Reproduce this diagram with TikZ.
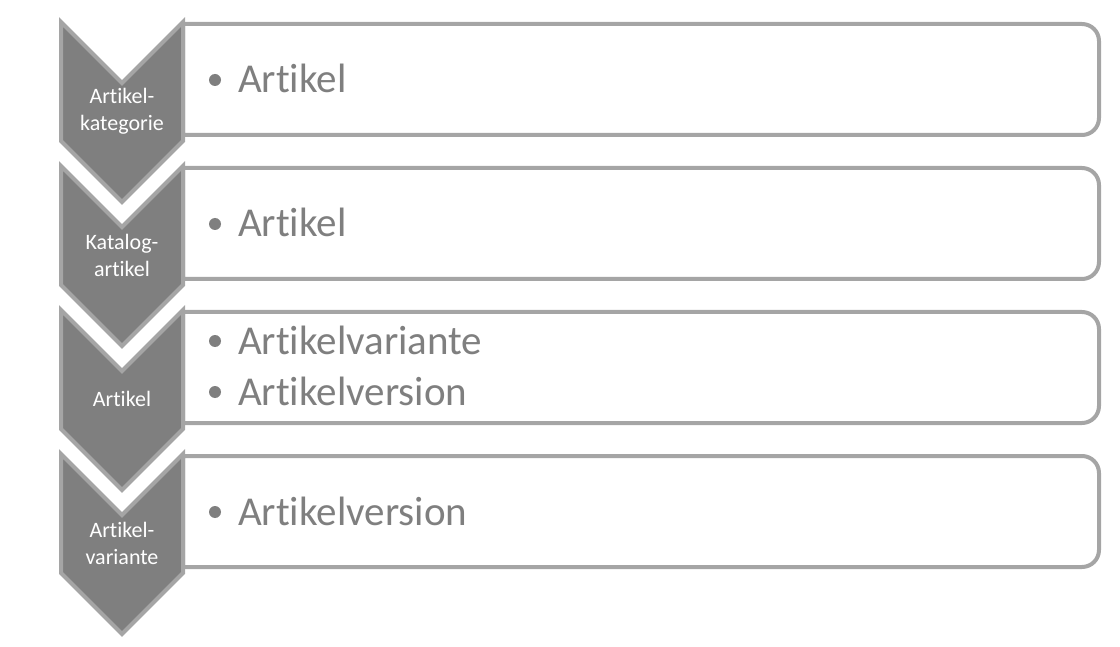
\documentclass[tikz,border=0pt]{standalone}
\usepackage{fontspec}
\setmainfont{Carlito}[Ligatures={NoCommon,NoDiscretionary,NoContextual}]
\definecolor{chevfill}{HTML}{7F7F7F}
\definecolor{edgegray}{HTML}{A5A5A5}
\definecolor{txtgray}{HTML}{7F7F7F}
\tikzset{
  chev/.style={fill=chevfill, draw=edgegray, line width=4pt, line join=miter},
  panel/.style={fill=white, draw=edgegray, line width=4pt},
  chevtext/.style={text=white, font=\fontsize{22}{27}\selectfont, align=center, inner sep=0pt},
  itemtext/.style={text=txtgray, font=\fontsize{41}{51}\selectfont, anchor=base west, inner sep=0pt},
  bulletdot/.style={fill=txtgray},
}
\begin{document}
\begin{tikzpicture}[x=1pt,y=-1pt]
\useasboundingbox (0,0) rectangle (1120,647);
% panels
\foreach \i in {0,1,2,3}{
  \pgfmathsetmacro{\o}{144*\i}
  \draw[panel] (183,135+\o) -- (183,24+\o) [rounded corners=17pt] -- (1099,24+\o) -- (1099,135+\o) [sharp corners] -- (183,135+\o);
}
% chevrons
\foreach \i in {0,1,2,3}{
  \pgfmathsetmacro{\o}{144*\i}
  \draw[chev] (61,22+\o) -- (122,83+\o) -- (183,22+\o) -- (183,141+\o) -- (122,202+\o) -- (61,141+\o) -- cycle;
}
% chevron labels
\node[chevtext] (c1) at (122,111) {Artikel-\\kategorie};
\node[chevtext] (c2) at (122,255) {Katalog-\\artikel};
\node[chevtext] (c3) at (122,399) {Artikel};
\node[chevtext] (c4) at (122,543) {Artikel-\\variante};
% items
\fill[bulletdot] (215,80) circle (6);
\node[itemtext] (t1) at (238,93) {Artikel};
\fill[bulletdot] (215,224) circle (6);
\node[itemtext] (t2) at (238,237) {Artikel};
\fill[bulletdot] (215,341) circle (6);
\node[itemtext] (t3a) at (238,354) {Artikelvariante};
\fill[bulletdot] (215,392) circle (6);
\node[itemtext] (t3b) at (238,405) {Artikelversion};
\fill[bulletdot] (215,512) circle (6);
\node[itemtext] (t4) at (238,525) {Artikelversion};
\end{tikzpicture}
\end{document}
